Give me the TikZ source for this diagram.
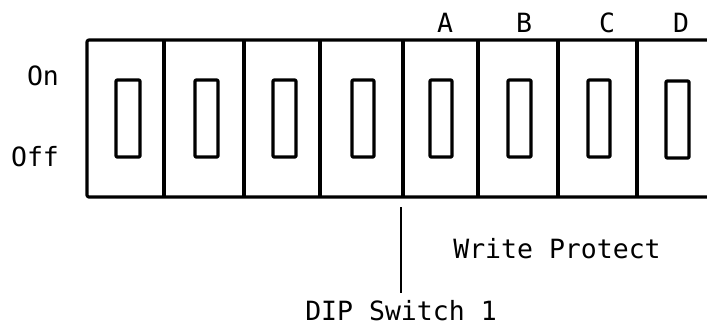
\documentclass[tikz,border=0pt]{standalone}
\usepackage{fontspec}
\setmonofont{DejaVu Sans Mono}
\usetikzlibrary{calc}
\tikzset{
	box line/.style={line width=3.2pt, line join=round},
	lbl/.style={font=\ttfamily\fontsize{26.5}{30}\selectfont, inner sep=0pt, anchor=base},
}

\begin{document}
\begin{tikzpicture}[x=1pt, y=-1pt]
		%%%%% START %%%%%
		\useasboundingbox (0, 0) rectangle (707, 325);
		
		% housing, open on the right
		\draw[box line, rounded corners=2pt] (707, 40) -- (87, 40) -- (87, 197) -- (707, 197);
		
		% cell dividers
		\draw[box line] (164, 40) -- (164, 197);
		\draw[box line] (244, 40) -- (244, 197);
		\draw[box line] (320, 40) -- (320, 197);
		\draw[box line] (403, 40) -- (403, 197);
		\draw[box line] (478, 40) -- (478, 197);
		\draw[box line] (558, 40) -- (558, 197);
		\draw[box line] (637, 40) -- (637, 197);
		
		% switch levers
		\draw[box line, rounded corners=1pt] (116, 80) rectangle (140, 157);
		\draw[box line, rounded corners=1pt] (195, 80) rectangle (218, 157);
		\draw[box line, rounded corners=1pt] (273, 80) rectangle (296, 157);
		\draw[box line, rounded corners=1pt] (352, 80) rectangle (374, 157);
		\draw[box line, rounded corners=1pt] (430, 80) rectangle (452, 157);
		\draw[box line, rounded corners=1pt] (508, 80) rectangle (531, 157);
		\draw[box line, rounded corners=1pt] (588, 80) rectangle (610, 157);
		\draw[box line, rounded corners=1pt] (666, 81) rectangle (689, 158);
		
		% positions
		\node[lbl] (on) at (43, 85) {On};
		\node[lbl] (off) at (35, 166) {Off};
		
		% write protect switches
		\node[lbl] (swa) at (445, 32) {A};
		\node[lbl] (swb) at (524, 32) {B};
		\node[lbl] (swc) at (607, 32) {C};
		\node[lbl] (swd) at (681, 32) {D};
		
		\node[lbl] (wprot) at (557, 258) {Write Protect};
		\node[lbl] (dipsw) at (401, 320) {DIP Switch 1};
		
		\coordinate (tap) at (401, 207);
		\draw[line width=2.4pt] (tap) -- ($(dipsw.north)+(0, -7)$);
		
		%%%%% END %%%%%
	\end{tikzpicture}
\end{document}
